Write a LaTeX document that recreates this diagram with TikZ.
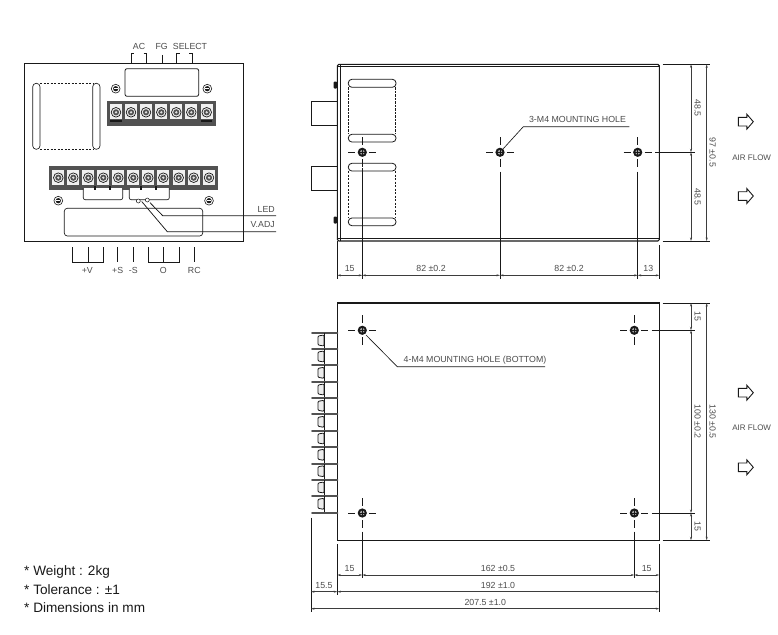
\documentclass[tikz,border=0pt]{standalone}
\usepackage{fontspec}
\setmainfont{Liberation Sans}
\usetikzlibrary{arrows.meta}
\definecolor{ink}{gray}{0.1}
\definecolor{txt}{gray}{0.3}
\definecolor{blk}{gray}{0.32}
\tikzset{
  x=1pt,y=-1pt,
  body/.style={draw=ink,line width=1.1pt},
  thin line/.style={draw=ink,line width=0.45pt},
  ext/.style={draw=ink,line width=0.7pt},
  dimn/.style={draw=txt!80!black,line width=0.75pt,{Stealth[length=3.5pt,width=2pt]}-{Stealth[length=3.5pt,width=2pt]}},
  lab/.style={text=txt,font=\fontsize{8.8}{10}\selectfont,inner sep=0pt},
  vlab/.style={lab,rotate=-90},
  foot/.style={text=ink,font=\fontsize{13.6}{15}\selectfont,inner sep=0pt,anchor=west},
  flow/.style={draw=ink,line width=0.9pt,fill=white},
  dashl/.style={draw=ink,line width=0.55pt,dash pattern=on 2.2pt off 1.3pt},
}
\newcommand{\mhole}[2]{%
  \draw[ink,line width=0.8pt] (#1-14,#2)--(#1-7,#2) (#1+7,#2)--(#1+14,#2) (#1,#2-15)--(#1,#2-7) (#1,#2+7)--(#1,#2+15);
  \fill[ink] (#1,#2) circle (4.6);
  \fill[gray!70] (#1,#2) circle (2.4);
  \draw[ink,line width=0.5pt] (#1-3,#2)--(#1+3,#2) (#1,#2-3)--(#1,#2+3);
}
\newcommand{\smallscrew}[2]{%
  \draw[ink,line width=0.6pt,fill=white] (#1,#2) circle (4.4);
  \fill[ink] (#1,#2) circle (2.6);
  \draw[white,line width=0.5pt] (#1-2,#2)--(#1+2,#2);
}
\newcommand{\tcell}[2]{%
  \fill[gray!12] (#1-6,#2-8) rectangle (#1+6,#2+7);
  \draw[ink,line width=0.7pt] (#1,#2) circle (4.8);
  \fill[blk] (#1,#2) circle (3.1);
  \fill[gray!25] (#1,#2) circle (1.3);
}
\newcommand{\airflow}[2]{%
  \draw[flow,line join=miter] (#1,#2-4.3)--(#1+8.5,#2-4.3)--(#1+8.5,#2-7.5)--(#1+15,#2)--(#1+8.5,#2+7.5)--(#1+8.5,#2+4.3)--(#1,#2+4.3)--cycle;
}
\newcommand{\hslot}[2]{%
  \draw[ink,line width=0.8pt,rounded corners=3.6pt] (348.3,#1) rectangle (396,#2);
}
\begin{document}
\begin{tikzpicture}
\useasboundingbox (0,0) rectangle (778,634);
\fill[white] (0,0) rectangle (778,634);

% ---------- left panel
\draw[body] (24.7,63.3) rectangle (243.3,241.3);
\draw[ink,line width=0.8pt,rounded corners=2pt] (125,68.7) rectangle (198.7,96.3);
\smallscrew{115.7}{88.7}
\smallscrew{207.3}{88.7}
% transformer
\draw[ink,line width=0.65pt,rounded corners=3.5pt] (32.7,83.3) rectangle (40,149.3);
\draw[ink,line width=0.65pt,rounded corners=3.5pt] (92.7,83.3) rectangle (100,149.3);
\draw[dashl] (40,83.3)--(92.7,83.3) (40,149.3)--(92.7,149.3);
% upper terminal block
\fill[blk] (106.7,101) rectangle (216,126);
\foreach \x in {116,131,146,161.3,176.3,191.3,206.7} {\tcell{\x}{112.3}}
\fill[ink] (110,120) rectangle (122,122);
\fill[ink] (201,120) rectangle (212,122);
% lower terminal block
\fill[blk] (49.3,165.7) rectangle (218.3,190);
\foreach \x in {58.3,73.3,88.3,103.3,118.3,133.3,148.3,163.3,178.7,193.7,209} {\tcell{\x}{177.7}}
% jumpers
\draw[ink,line width=0.65pt,rounded corners=2pt,fill=white] (83.3,188) -- (83.3,199.7) -- (122.7,199.7) -- (122.7,188);
\draw[ink,line width=0.65pt,rounded corners=2pt,fill=white] (129.3,188) -- (129.3,199.7) -- (169.3,199.7) -- (169.3,188);
\fill[blk] (122.7,187) rectangle (129.3,190);
\foreach \x in {95,110,141,156} {\fill[ink] (\x-1,186) rectangle (\x+1,190);}
\smallscrew{58.3}{200.7}
\smallscrew{209}{200.7}
\draw[ink,line width=0.65pt,rounded corners=3pt] (64.3,208.3) rectangle (202.7,236);
\draw[ink,line width=0.5pt,fill=white] (138.3,201) circle (2);
\draw[ink,line width=0.5pt,fill=white] (147.3,200) circle (2);
\coordinate (ledA) at (150,202.7);
\coordinate (ledB) at (162.7,215.7);
\coordinate (ledC) at (276,215.7);
\coordinate (vadjA) at (141.7,201.5);
\coordinate (vadjB) at (167.3,231.7);
\coordinate (vadjC) at (276,231.7);
\draw[ink,line width=0.75pt] (ledA)--(ledB)--(ledC);
\draw[ink,line width=0.75pt] (vadjA)--(vadjB)--(vadjC);
\node[lab,anchor=east] (led) at (275,209) {LED};
\node[lab,anchor=east] (vadj) at (275,224.3) {V.ADJ};
% upper labels and brackets
\draw[thin line,line width=0.65pt] (131,63.3)--(131,53.5)--(134,53.5) (143.5,53.5)--(146.7,53.5)--(146.7,63.3);
\draw[thin line,line width=0.65pt] (162,55)--(162,63.3);
\draw[thin line,line width=0.65pt] (176.7,63.3)--(176.7,53.5)--(180,53.5) (189,53.5)--(192.3,53.5)--(192.3,63.3);
\node[lab] (ac) at (139,46.7) {AC};
\node[lab] (fg) at (161.7,46.7) {FG};
\node[lab] (sel) at (190,46.7) {SELECT};
% lower labels and brackets
\draw[thin line,line width=0.65pt] (72.7,247)--(72.7,262.3)--(103.7,262.3)--(103.7,247) (88.3,247)--(88.3,262.3);
\draw[thin line,line width=0.65pt] (117.7,247)--(117.7,262) (133.3,247)--(133.3,262) (194.3,247)--(194.3,262);
\draw[thin line,line width=0.65pt] (148.3,247)--(148.3,262.3)--(179,262.3)--(179,247) (163.7,247)--(163.7,262.3);
\node[lab] (pv) at (87.3,270) {+V};
\node[lab] (ps) at (117.7,270) {+S};
\node[lab] (ms) at (133.3,270) {-S};
\node[lab] (oo) at (163.3,270) {O};
\node[lab] (rc) at (194.3,270) {RC};

% ---------- top right view
\draw[body,rounded corners=1.5pt] (337.3,64.3) rectangle (659.3,241);
\draw[ink,line width=0.5pt] (340,241)--(340,64.3);
\draw[ink,line width=0.5pt] (337.3,66.3)--(659.3,66.3);
\draw[ink,line width=0.5pt] (337.3,238.6)--(659.3,238.6);
\draw[ink,line width=0.8pt] (337.3,101)--(311,101)--(311,125.7)--(337.3,125.7);
\draw[ink,line width=0.8pt] (337.3,166)--(311,166)--(311,190.7)--(337.3,190.7);
\fill[ink,rounded corners=1pt] (333.5,81.5) rectangle (337,88.5);
\fill[ink,rounded corners=1pt] (333.5,216.5) rectangle (337,223.5);
\hslot{79.3}{87.3}
\hslot{134.3}{142}
\hslot{163.3}{171}
\hslot{218}{225.7}
\draw[dashl] (348.6,87.3)--(348.6,134.3) (395.7,87.3)--(395.7,134.3) (348.6,171)--(348.6,218) (395.7,171)--(395.7,218);
\mhole{362.3}{152.3}
\mhole{500}{152.3}
\mhole{637.7}{152.3}
% extension lines
\draw[ext] (362.3,168)--(362.3,279);
\draw[ext] (500,171.7)--(500,279);
\draw[ext] (637.7,171.7)--(637.7,279);
\draw[ext] (337.3,241)--(337.3,279);
\draw[ext] (659.3,245)--(659.3,279);
\draw[dimn] (337.3,275.3)--(362.3,275.3);
\draw[dimn] (362.3,275.3)--(500,275.3);
\draw[dimn] (500,275.3)--(637.7,275.3);
\draw[dimn] (637.7,275.3)--(659.3,275.3);
\node[lab] (d1) at (349.7,268.8) {15};
\node[lab] (d2) at (431,268.8) {82 ±0.2};
\node[lab] (d3) at (569,268.8) {82 ±0.2};
\node[lab] (d4) at (648.3,268.8) {13};
\draw[ext] (662.7,64.3)--(710,64.3) (662.7,241)--(710,241) (655,152.3)--(695,152.3);
\draw[dimn] (691,64.3)--(691,152.3);
\draw[dimn] (691,152.3)--(691,241);
\draw[dimn] (706.7,64.3)--(706.7,241);
\node[vlab] (d5) at (697.7,108.3) {48.5};
\node[vlab] (d6) at (697.7,196.7) {48.5};
\node[vlab] (d7) at (712.7,152.3) {97 ±0.5};
\coordinate (lA) at (503,149);
\coordinate (lB) at (523.3,126.7);
\coordinate (lC) at (629.3,126.7);
\draw[ink,line width=0.65pt] (lA)--(lB)--(lC);
\node[lab] (t3) at (577.5,119) {3-M4 MOUNTING HOLE};
\airflow{738.3}{121.7}
\airflow{738.3}{196}
\node[lab,font=\fontsize{8}{10}\selectfont] (af1) at (751.7,157.3) {AIR FLOW};

% ---------- bottom right view
\draw[body] (337.3,303) rectangle (659.3,540.3);
\foreach \y [count=\i] in {333,349,365.3,382,398.3,414.3,431,447.3,463.7,480,496.3,512.7} {
  \draw[blk,line width=1.9pt,line cap=round] (312,\y)--(337.3,\y);
  \ifnum\i<12
    \draw[ink,line width=0.8pt,rounded corners=1pt,fill=gray!15] (324,\y+2)--(318,\y+3)--(318,\y+12)--(324,\y+13)--cycle;
    \draw[ink,line width=1pt] (324,\y)--(324,\y+16);
  \fi
}
\mhole{362.3}{330.3}
\mhole{634.3}{330.3}
\mhole{362.3}{513}
\mhole{634.3}{513}
\coordinate (mA) at (366,335);
\coordinate (mB) at (397.3,366.7);
\coordinate (mC) at (545,366.7);
\draw[ink,line width=0.65pt] (mA)--(mB)--(mC);
\node[lab] (t4) at (475,360) {4-M4 MOUNTING HOLE (BOTTOM)};
\draw[ext] (337.3,544)--(337.3,595);
\draw[ext] (362.3,531.7)--(362.3,578.3);
\draw[ext] (634.3,531.7)--(634.3,578.3);
\draw[ext] (659.3,544)--(659.3,611.7);
\draw[ext] (311,517.7)--(311,611.7);
\draw[dimn] (337.3,575)--(362.3,575);
\draw[dimn] (362.3,575)--(634.3,575);
\draw[dimn] (634.3,575)--(659.3,575);
\draw[dimn] (311,591.7)--(337.3,591.7);
\draw[dimn] (337.3,591.7)--(659.3,591.7);
\draw[dimn] (311,608.7)--(659.3,608.7);
\node[lab] (e1) at (349.5,568.5) {15};
\node[lab] (e2) at (498,568.5) {162 ±0.5};
\node[lab] (e3) at (646.7,568.5) {15};
\node[lab] (e4) at (324,585.7) {15.5};
\node[lab] (e5) at (498,585.7) {192 ±1.0};
\node[lab] (e6) at (485.3,602.7) {207.5 ±1.0};
\draw[ext] (662.7,303)--(710,303) (662.7,540.3)--(710,540.3) (651.7,330.3)--(695,330.3) (651.7,513)--(695,513);
\draw[dimn] (691,303)--(691,330.3);
\draw[dimn] (691,330.3)--(691,513);
\draw[dimn] (691,513)--(691,540.3);
\draw[dimn] (706.7,303)--(706.7,540.3);
\node[vlab] (f1) at (697.7,316.7) {15};
\node[vlab] (f2) at (697.7,421.7) {100 ±0.2};
\node[vlab] (f3) at (697.7,526.7) {15};
\node[vlab] (f4) at (712.7,421.7) {130 ±0.5};
\airflow{738.3}{392.7}
\airflow{738.3}{467.3}
\node[lab,font=\fontsize{8}{10}\selectfont] (af2) at (751.7,428) {AIR FLOW};

% ---------- notes
\node[foot] (n1) at (24,572) {* Weight : 2kg};
\node[foot] (n2) at (24,590) {* Tolerance : ±1};
\node[foot] (n3) at (24,608) {* Dimensions in mm};
\end{tikzpicture}
\end{document}
